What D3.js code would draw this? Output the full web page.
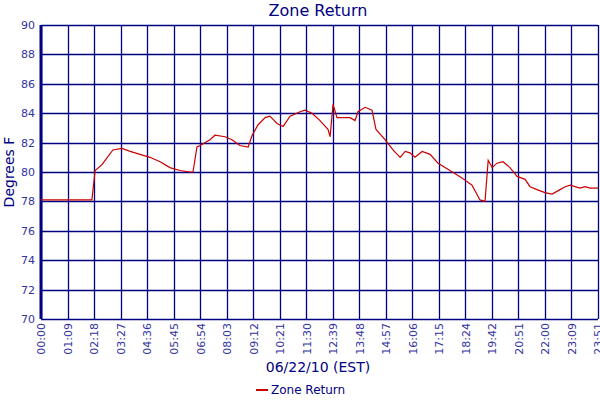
<!DOCTYPE html>
<html><head><meta charset="utf-8">
<script src="https://cdn.jsdelivr.net/npm/d3@7"></script>
<style>body{margin:0;background:#fff}text{font-family:"DejaVu Sans",Verdana,sans-serif}</style>
</head><body><svg id="chart" width="600" height="400"></svg>
<script>
// tick labels (equally spaced slots)
var tickLabels = ['00:00','01:09','02:18','03:27','04:36','05:45','06:54','08:03','09:12','10:21','11:30','12:39','13:48','14:57','16:06','17:15','18:24','19:42','20:51','22:00','23:09','23:51'];
var yTicks = [70,72,74,76,78,80,82,84,86,88,90];

// series, position in tick slots
var slots = [0,0.5,1,1.5,1.92,2.04,2.3,2.5,2.71,3.05,3.36,3.73,4.11,4.49,4.86,5.24,5.62,5.73,5.88,6.0,6.37,6.56,6.94,7.2,7.5,7.81,7.96,8.18,8.45,8.63,8.9,9.13,9.39,9.77,9.95,10.22,10.52,10.82,10.9,11.01,11.16,11.46,11.65,11.84,11.95,12.22,12.48,12.63,12.97,13.27,13.54,13.73,13.91,14.1,14.37,14.67,14.97,15.42,15.87,16.25,16.55,16.74,16.86,17.01,17.19,17.42,17.68,17.95,18.25,18.44,18.7,19.0,19.27,19.57,19.76,19.95,20.32,20.51,20.7,21];
var temps = [78.1,78.1,78.1,78.1,78.1,80.1,80.5,81.0,81.5,81.6,81.4,81.2,81.0,80.7,80.3,80.1,80.0,80.0,81.7,81.8,82.2,82.5,82.4,82.2,81.8,81.7,82.5,83.2,83.7,83.8,83.3,83.1,83.8,84.1,84.2,84.0,83.5,82.9,82.4,84.6,83.7,83.7,83.7,83.5,84.1,84.4,84.2,82.9,82.2,81.5,81.0,81.4,81.3,81.0,81.4,81.2,80.6,80.1,79.6,79.1,78.1,78.0,80.8,80.3,80.6,80.7,80.3,79.7,79.5,79.0,78.8,78.6,78.5,78.8,79.0,79.1,78.9,79.0,78.9,78.9];

var navy = '#000080';
var svg = d3.select('#chart');
var m = {l: 41, r: 2, t: 25, b: 81};
var W = 600 - m.l - m.r, H = 400 - m.t - m.b;

var x = d3.scaleLinear().domain([0, tickLabels.length - 1]).range([0, W]);
var y = d3.scaleLinear().domain([70, 90]).range([H, 0]);

var g = svg.append('g').attr('transform', 'translate(' + m.l + ',' + m.t + ')');

/**
 * Grid
 */
g.selectAll('.vg').data(d3.range(tickLabels.length)).enter().append('line')
	.attr('x1', function(d) {return Math.round(x(d)) + 0.5;}).attr('x2', function(d) {return Math.round(x(d)) + 0.5;})
	.attr('y1', 0).attr('y2', H).attr('stroke', navy).attr('stroke-width', 1.3);
g.selectAll('.hg').data(yTicks).enter().append('line')
	.attr('x1', 0).attr('x2', W)
	.attr('y1', function(d) {return Math.round(y(d)) + 0.5;}).attr('y2', function(d) {return Math.round(y(d)) + 0.5;})
	.attr('stroke', navy).attr('stroke-width', 1.3);
g.append('line').attr('x1', 0).attr('x2', 0).attr('y1', 0).attr('y2', H).attr('stroke', navy).attr('stroke-width', 3);

/**
 * Axes labels
 */
var xAxis = g.append('g').attr('transform', 'translate(0,' + H + ')')
	.call(d3.axisBottom(x).tickValues(d3.range(tickLabels.length)).tickFormat(function(i) {return tickLabels[i];}).tickSize(0));
xAxis.select('.domain').remove();
xAxis.selectAll('text').attr('fill', '#3333a0').style('font-size', '11px')
	.attr('transform', 'rotate(-90)').attr('text-anchor', 'end').attr('x', -4).attr('y', 0).attr('dy', '0.35em');

var yAxis = g.append('g').call(d3.axisLeft(y).tickValues(yTicks).tickSize(0).tickPadding(6));
yAxis.select('.domain').remove();
yAxis.selectAll('text').attr('fill', '#3333a0').style('font-size', '11px');

/**
 * Line
 */
var pts = slots.map(function(s, i) {return [s, temps[i]];});
g.append('path').datum(pts)
	.attr('fill', 'none').attr('stroke', '#cc0000').attr('stroke-width', 1.2)
	.attr('d', d3.line().x(function(d) {return x(d[0]);}).y(function(d) {return y(d[1]);}));

/**
 * Titles and legend
 */
svg.append('text').attr('x', 318).attr('y', 16).attr('text-anchor', 'middle').attr('fill', navy).style('font-size', '16px').text('Zone Return');
svg.append('text').attr('x', 318).attr('y', 372).attr('text-anchor', 'middle').attr('fill', navy).style('font-size', '14px').text('06/22/10 (EST)');
svg.append('text').attr('transform', 'translate(14,' + (m.t + H / 2) + ') rotate(-90)').attr('text-anchor', 'middle').attr('fill', navy).style('font-size', '14px').text('Degrees F');
svg.append('line').attr('x1', 256).attr('x2', 268).attr('y1', 390).attr('y2', 390).attr('stroke', '#cc0000').attr('stroke-width', 2);
svg.append('text').attr('x', 271).attr('y', 394).attr('fill', navy).style('font-size', '12px').text('Zone Return');
</script></body></html>
